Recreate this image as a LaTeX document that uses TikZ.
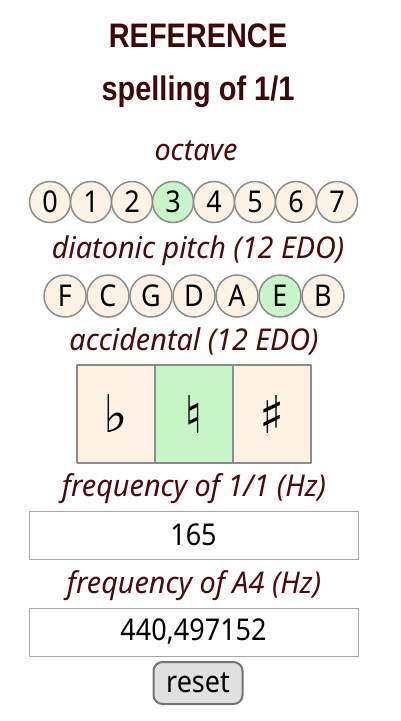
\documentclass[tikz,border=0pt]{standalone}
\usepackage{fontspec}
\setmainfont{Noto Sans}[FakeStretch=0.9]
\newfontfamily\headfont{Liberation Sans}[FakeStretch=0.85]
\newfontfamily\capfont{Noto Sans}[FakeStretch=0.96]
\newfontfamily\symfont{DejaVu Sans}
\definecolor{titlered}{HTML}{3D0808}
\definecolor{labelred}{HTML}{4A0A0A}
\definecolor{cream}{HTML}{FDF2E4}
\definecolor{chosen}{HTML}{C8F5C8}
\definecolor{rim}{HTML}{8C8C8C}
\tikzset{
  title/.style={anchor=base,text=titlered,font=\headfont\fontsize{34}{40}\selectfont\bfseries},
  caption/.style={anchor=base,text=labelred,font=\capfont\fontsize{30}{32}\selectfont\itshape},
  knob/.style={circle,draw=rim,line width=1.5pt,fill=cream,inner sep=0pt,font=\fontsize{30}{32}\selectfont},
  cell/.style={rectangle,draw=rim,line width=1.5pt,fill=cream,minimum width=78pt,minimum height=98pt,inner sep=0pt,font=\symfont\fontsize{52}{54}\selectfont},
  field/.style={rectangle,draw=black!35,line width=1pt,minimum width=329pt,minimum height=48pt,inner sep=0pt,font=\fontsize{30}{32}\selectfont}
}
\begin{document}
\begin{tikzpicture}[x=1pt,y=-1pt,line join=round]
	\useasboundingbox (0,0) rectangle (400,721);
	% headings
	\node[title] (head) at (198,47) {REFERENCE};
	\node[title] (sub) at (198,100) {spelling of 1/1};
	% octave
	\node[caption] (octlabel) at (196,160) {octave};
	\node[knob,minimum size=41pt] (o0) at (50,202) {0};
	\node[knob,minimum size=41pt] (o1) at (91,202) {1};
	\node[knob,minimum size=41pt] (o2) at (132,202) {2};
	\node[knob,minimum size=41pt,fill=chosen] (o3) at (173,202) {3};
	\node[knob,minimum size=41pt] (o4) at (214,202) {4};
	\node[knob,minimum size=41pt] (o5) at (255,202) {5};
	\node[knob,minimum size=41pt] (o6) at (296,202) {6};
	\node[knob,minimum size=41pt] (o7) at (337,202) {7};
	% diatonic pitch
	\node[caption] (pitchlabel) at (198,258) {diatonic pitch (12 EDO)};
	\node[knob,minimum size=42pt] (nF) at (65,296) {F};
	\node[knob,minimum size=42pt] (nC) at (108,296) {C};
	\node[knob,minimum size=42pt] (nG) at (151,296) {G};
	\node[knob,minimum size=42pt] (nD) at (194,296) {D};
	\node[knob,minimum size=42pt] (nA) at (237,296) {A};
	\node[knob,minimum size=42pt,fill=chosen] (nE) at (280,296) {E};
	\node[knob,minimum size=42pt] (nB) at (323,296) {B};
	% accidental
	\node[caption] (acclabel) at (194,350) {accidental (12 EDO)};
	\node[cell] (flat) at (116,414) {♭};
	\node[cell,fill=chosen] (natural) at (194,414) {♮};
	\node[cell] (sharp) at (272,414) {♯};
	% frequencies
	\node[caption] (reflabel) at (194,496) {frequency of 1/1 (Hz)};
	\node[field] (reffreq) at (193.5,535) {165};
	\node[caption] (alabel) at (194,593) {frequency of A4 (Hz)};
	\node[field] (afreq) at (193.5,632) {440,497152};
	\node[rectangle,rounded corners=9pt,draw=black!55,line width=2pt,fill=black!12,minimum width=89pt,minimum height=42pt,inner sep=0pt,font=\fontsize{30}{32}\selectfont] (reset) at (198,683) {reset};
\end{tikzpicture}
\end{document}
